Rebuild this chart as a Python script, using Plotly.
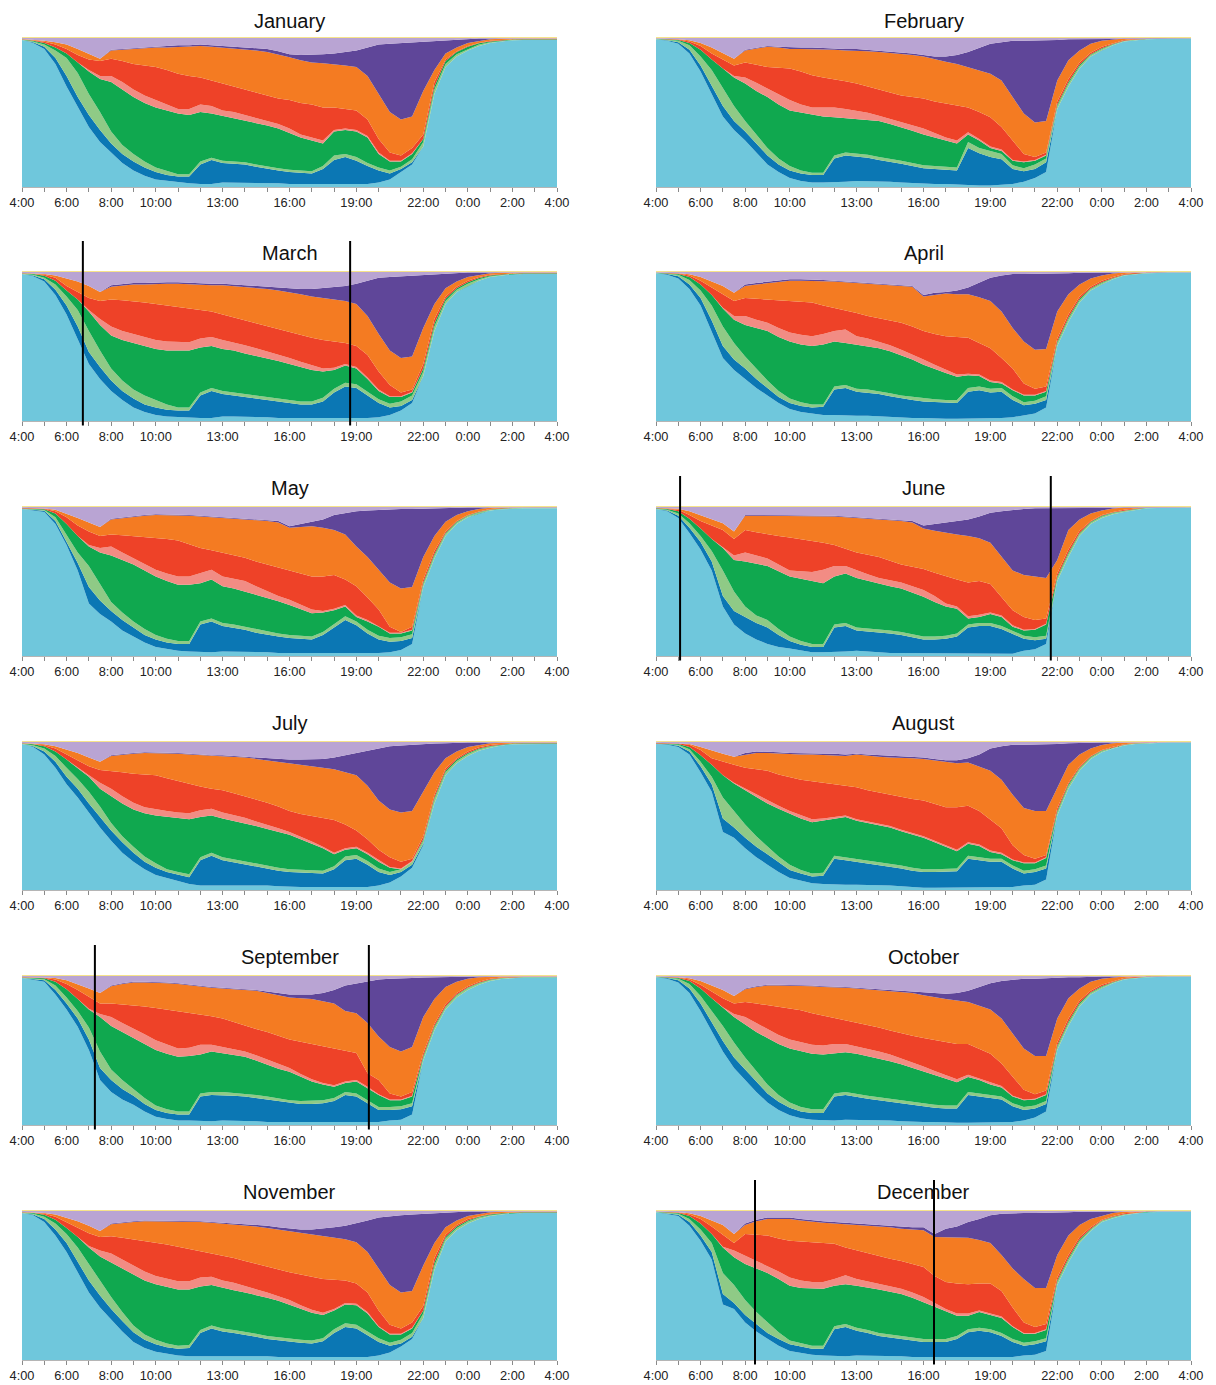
import plotly.graph_objects as go

# ---------------- data ----------------
# time grid (hours after midnight; 24-28 = 0:00-4:00 next day), 30-minute samples
TIME_H = [4.0, 4.5, 5.0, 5.5, 6.0, 6.5, 7.0, 7.5, 8.0, 8.5, 9.0, 9.5, 10.0, 10.5, 11.0, 11.5,
          12.0, 12.5, 13.0, 13.5, 14.0, 14.5, 15.0, 15.5, 16.0, 16.5, 17.0, 17.5, 18.0, 18.5,
          19.0, 19.5, 20.0, 20.5, 21.0, 21.5, 22.0, 22.5, 23.0, 23.5, 24.0, 24.5, 25.0, 25.5,
          26.0, 26.5, 27.0, 27.5, 28.0]

TICK_HOURS = [4, 5, 6, 7, 8, 9, 10, 11, 12, 13, 14, 15, 16, 17, 18, 19, 20, 21, 22, 23, 24, 25, 26, 27, 28]
TICK_LABELS = ["4:00", "", "6:00", "", "8:00", "", "10:00", "", "", "13:00", "", "", "16:00", "", "",
               "19:00", "", "", "22:00", "", "0:00", "", "2:00", "", "4:00"]

MONTH_NAMES = ["January", "February", "March", "April", "May", "June",
               "July", "August", "September", "October", "November", "December"]

# band names and colours, bottom to top
BAND_NAMES = ["cyan", "blue", "light green", "green", "pink", "red", "orange",
              "dark purple", "light purple", "yellow"]
BAND_COLORS = ["#6fc7dc", "#0b77b4", "#8fca86", "#10a84f", "#f28c84", "#ee4228",
               "#f47b22", "#5f4699", "#b9a4d3", "#f6e38a"]

# upper edge of each band, % of panel height
LIGHT_PURPLE_TOP = 99.3
YELLOW_TOP = 100.0

# sunrise / sunset marker lines (hours)
SUN_MONTHS = ["March", "June", "September", "December"]
SUN_RISE = [6.73, 5.08, 7.27, 8.44]
SUN_SET = [18.72, 21.71, 19.56, 16.47]

JAN_CYAN = [98, 96, 92, 82, 67, 53, 40, 30, 23, 16, 11, 7.5, 5, 4, 3, 2.5, 2, 2, 3, 3, 3, 3, 3, 2.5, 2, 2, 2, 2, 1.5, 1.5, 1.5, 2, 3, 5, 10, 15, 27, 62, 80, 87, 91, 94, 96, 97, 97.8, 98, 98, 98, 98]
JAN_BLUE = [98, 96.5, 93.5, 86, 74, 60, 48, 38, 29, 22, 17, 13, 10, 8, 7, 7, 15, 18, 16, 15.5, 15, 13.5, 12, 11, 10, 9.5, 9, 12, 18, 20, 17.5, 14, 11, 9, 12, 16.5, 27, 62, 80, 87, 91, 94, 96, 97, 97.8, 98, 98, 98, 98]
JAN_LGREEN = [98.2, 97, 95, 91, 86, 76, 62, 50, 37, 28, 22, 17, 13, 10.5, 8.5, 8.5, 17, 19.5, 17.5, 17, 16.5, 15, 13.5, 12.5, 11.5, 11, 10.5, 14, 21, 22, 20, 16, 13, 11, 13.5, 18.5, 30, 65, 82, 88.5, 92, 95, 96.5, 97.3, 98, 98.2, 98.2, 98.2, 98.2]
JAN_GREEN = [98.4, 97.5, 96, 93, 89, 83, 77, 72, 70, 65, 60, 56, 53, 51, 49, 48, 50, 49, 47.5, 46, 44, 42.5, 41, 39, 36, 33, 31, 29, 37, 38, 37, 33, 22, 17, 17, 22, 32, 67, 84, 90, 93.5, 95.8, 97, 97.8, 98.3, 98.5, 98.5, 98.5, 98.5]
JAN_PINK = [98.4, 97.5, 96, 93, 89, 83, 78, 74, 74, 70, 65, 61, 58, 55, 52, 52, 55, 54, 51, 50, 48, 46, 44, 42, 39, 35, 33, 31, 38, 39, 38, 34, 23, 17.5, 17.5, 22.5, 32, 67, 84, 90, 93.5, 95.8, 97, 97.8, 98.3, 98.5, 98.5, 98.5, 98.5]
JAN_RED = [98.5, 97.8, 96.8, 95, 92, 88, 85, 84, 85.5, 84, 82, 81, 80, 78, 75.5, 74, 73, 71, 69, 67, 65, 63, 61, 59, 58, 56, 55, 53, 53, 52, 51, 45, 32, 23, 21, 26, 35, 70, 85, 90.5, 94, 96, 97.5, 98, 98.4, 98.6, 98.6, 98.6, 98.6]
JAN_ORANGE = [98.6, 98.2, 97.5, 96.5, 95, 92, 89, 85.5, 91, 91.5, 92, 92.5, 93, 93, 93.5, 93.5, 94, 93.5, 93, 92.5, 92, 91, 90, 88.5, 86.5, 84.5, 83, 82.5, 82, 81, 80, 74, 62, 50, 45, 47, 64, 78, 89, 93, 96, 97.5, 98.5, 98.8, 99, 99, 99, 99, 99]
JAN_DPURPLE = [98.6, 98.2, 97.5, 96.5, 95, 92, 89, 85.5, 91.5, 92, 92.5, 93, 93.5, 94, 94.5, 94.5, 95, 94.5, 94, 93.5, 93, 92.5, 92, 90.5, 88.5, 88, 88, 88.5, 89, 90, 91, 93, 95, 95.5, 96, 96.5, 97, 97.5, 98, 98.5, 99, 99, 99, 99, 99, 99, 99, 99, 99]

FEB_CYAN = [98.5, 97.5, 95.5, 89, 77, 62, 47, 38, 31, 23, 15, 10, 6, 4, 3, 3, 3, 3.5, 4, 4, 4, 3.5, 3, 2.5, 2, 2, 2, 1.5, 1, 1, 1, 1.5, 2, 3.5, 6, 10, 52, 67, 79, 87, 91, 94.5, 97, 98, 98.5, 98.7, 98.7, 98.7, 98.7]
FEB_BLUE = [98.5, 97.8, 96.5, 91.5, 81, 68, 54, 44, 37, 29, 21, 15, 11, 9, 8, 8, 19, 21, 20.5, 19.5, 18, 17, 15.5, 14, 12.5, 12, 11.5, 11, 26, 22.5, 20, 18.5, 12, 10.5, 12, 16.5, 52, 67, 79, 87, 91, 94.5, 97, 98, 98.5, 98.7, 98.7, 98.7, 98.7]
FEB_LGREEN = [98.7, 98.2, 97.5, 94.5, 87, 78, 66, 54, 44, 35, 26, 19, 14, 11, 9.5, 9.5, 21, 23, 22.5, 21.5, 20, 19, 17.5, 16, 14.5, 14, 13.5, 13, 30, 26, 24, 22, 14.5, 12.5, 15, 19, 54, 69, 80.5, 88, 92, 95, 97.3, 98.2, 98.6, 98.8, 98.8, 98.8, 98.8]
FEB_GREEN = [98.8, 98.5, 98, 96, 91.5, 85, 79, 73, 69, 64, 60, 55, 51, 49.5, 48, 47, 46.5, 46, 45.5, 45, 44, 42, 40, 37.5, 35, 33, 31, 29, 35, 31, 26, 24, 17.5, 16.5, 17.5, 21, 55, 70, 81.5, 88.5, 92.5, 95.3, 97.5, 98.4, 98.8, 99, 99, 99, 99]
FEB_PINK = [98.8, 98.5, 98, 96, 91.5, 85, 79, 74, 73, 69.5, 65.5, 61.5, 58, 55, 53, 53, 53, 52, 51, 49.5, 47.5, 45.5, 43, 41, 39, 36, 33, 31, 36.5, 32, 27, 25, 18, 17, 18, 21.5, 55, 70, 81.5, 88.5, 92.5, 95.3, 97.5, 98.4, 98.8, 99, 99, 99, 99]
FEB_RED = [98.9, 98.7, 98.3, 97, 94, 89, 85, 81, 83, 81.5, 80, 79.5, 79, 77, 74.5, 73, 72, 70.5, 69, 67, 65.5, 63, 61, 60, 59, 57, 55.5, 54, 53, 50, 46.5, 40, 31, 22, 20, 23, 57, 72, 83, 89.5, 93.5, 96, 98, 98.6, 98.9, 99, 99, 99, 99]
FEB_ORANGE = [99, 98.8, 98.5, 97.8, 96, 93, 89, 85.5, 91, 92.5, 93.5, 93, 92, 92, 92, 91.5, 91.5, 91, 91, 90.5, 90, 89.5, 89, 88, 87, 85, 83.5, 82, 80, 77.5, 75.5, 71, 60, 49, 43, 44, 71, 84.5, 91, 95.5, 97.5, 98.5, 99, 99, 99, 99, 99, 99, 99]
FEB_DPURPLE = [99, 98.8, 98.5, 97.8, 96, 93, 89, 85.5, 91.5, 93, 94, 93.5, 93, 93, 93, 92.5, 92.5, 92, 92, 91.5, 91, 90.5, 90, 89, 88, 87, 87, 88, 90, 93, 95.5, 96.5, 97.5, 97.5, 97.5, 98, 98, 98.5, 98.5, 99, 99, 99, 99, 99, 99, 99, 99, 99, 99]

MAR_CYAN = [98, 96.5, 93, 84, 71, 55, 38, 28, 20, 14, 9, 6, 4, 3, 2.5, 2, 2, 2, 3, 3, 3, 3, 2.5, 2, 2, 2, 1.5, 1.5, 1.5, 1.5, 1.5, 2, 2.5, 4, 7, 12, 30, 60, 78, 86, 90, 93.5, 96, 97, 97.8, 98, 98, 98, 98]
MAR_BLUE = [98, 97, 94.5, 87.5, 77, 63, 46, 36, 27, 20, 15, 11, 9, 7.5, 7, 7, 17, 20, 18, 17, 16, 15, 14, 13, 12, 11, 11, 13, 19, 23, 22, 17, 12, 9, 10, 14, 30, 60, 78, 86, 90, 93.5, 96, 97, 97.8, 98, 98, 98, 98]
MAR_LGREEN = [98.2, 97.5, 95.5, 91, 83, 74, 60, 47, 35, 27, 21, 17, 14, 11, 9, 9, 19, 22, 20, 19, 18, 17, 16, 15, 14, 13, 13, 15.5, 21.5, 25.5, 24.5, 19.5, 14.5, 11.5, 13, 17, 33, 63, 80, 87.5, 91.5, 94.5, 96.5, 97.3, 98, 98.2, 98.2, 98.2, 98.2]
MAR_GREEN = [98.4, 98, 96.8, 93.5, 87, 81, 73, 64, 57, 54, 52, 50, 48, 47, 47, 47, 49, 50, 48, 47, 45, 43.5, 42, 40, 38, 36, 34, 33, 34, 37, 35, 28, 20, 16, 16, 19, 35, 65, 81.5, 88.5, 92.5, 95.3, 97, 97.8, 98.3, 98.5, 98.5, 98.5, 98.5]
MAR_PINK = [98.4, 98, 96.8, 93.5, 87, 81, 74, 68, 63, 60, 58, 56, 54, 53, 52.5, 52.5, 55, 56, 54, 52.5, 50.5, 48.5, 46.5, 44.5, 42, 39.5, 37, 35, 35.5, 38, 36, 29, 21, 16.5, 16.5, 19.5, 35, 65, 81.5, 88.5, 92.5, 95.3, 97, 97.8, 98.3, 98.5, 98.5, 98.5, 98.5]
MAR_RED = [98.5, 98.2, 97.5, 95.5, 90, 86, 82, 80, 81, 80.5, 80, 79, 78, 77, 76, 75, 74, 73, 71, 69, 67, 65, 63, 61, 59, 57, 55.5, 54, 53, 52, 50, 44, 33, 24, 19, 21, 38, 68, 83, 89.5, 93.5, 96, 97.5, 98, 98.4, 98.6, 98.6, 98.6, 98.6]
MAR_ORANGE = [98.6, 98.4, 98, 97, 95, 93, 90, 86, 89.5, 90.5, 91, 91, 91.5, 91.5, 91.5, 91, 91, 90.5, 90.5, 90, 89.5, 89, 88, 87, 86, 84.5, 83, 82, 81, 80, 78, 70, 58, 47, 42, 43, 62, 78, 88.5, 93, 96, 97.5, 98.5, 98.8, 99, 99, 99, 99, 99]
MAR_DPURPLE = [98.6, 98.4, 98, 97, 95, 93, 90, 86, 90.5, 91.5, 92, 92, 92.5, 92.5, 92.5, 92, 92, 91.5, 91.5, 91, 90.5, 90, 89.5, 89, 88.5, 88, 88, 88.5, 89, 90, 91.5, 93.5, 95.5, 96, 96.5, 97, 97.5, 98, 98.5, 99, 99, 99, 99, 99, 99, 99, 99, 99, 99]

APR_CYAN = [98.5, 97.5, 95, 88, 77, 60, 42, 34, 28, 22, 17, 12, 8, 6, 5, 4, 4, 3.5, 3.5, 3.5, 3, 3, 2.5, 2, 2, 1.5, 1.5, 1.5, 1.5, 1.5, 1.5, 2, 2.5, 3.5, 5, 9, 50, 66, 79, 87, 91, 94.5, 97, 98, 98.5, 98.7, 98.7, 98.7, 98.7]
APR_BLUE = [98.5, 98, 96.5, 91, 82, 67, 50, 41, 35, 28, 22, 16, 12, 10, 9, 9.5, 21, 22, 19.5, 19, 18, 16.5, 15, 14, 13, 12.5, 12, 12, 19.5, 20.5, 19, 19.5, 14, 10.5, 11.5, 14, 50, 66, 79, 87, 91, 94.5, 97, 98, 98.5, 98.7, 98.7, 98.7, 98.7]
APR_LGREEN = [98.7, 98.3, 97.5, 94, 87, 77, 63, 52, 43, 35, 27, 20, 15, 12.5, 11, 11, 23, 24, 21.5, 21, 20, 18.5, 17, 16, 15, 14.5, 14, 14, 22, 23, 21.5, 22, 16.5, 12.5, 13.5, 16.5, 52, 68, 80.5, 88, 92, 95, 97.3, 98.2, 98.6, 98.8, 98.8, 98.8, 98.8]
APR_GREEN = [98.8, 98.6, 98, 96, 91, 84, 75, 67.5, 64, 62, 60, 56, 53, 51, 50, 51, 53, 52, 51, 50, 48.5, 46.5, 44, 41, 37.5, 34.5, 32, 29.5, 30.5, 30, 26, 25, 20.5, 17, 17, 19.5, 53, 69, 81.5, 88.5, 92.5, 95.3, 97.5, 98.4, 98.8, 99, 99, 99, 99]
APR_PINK = [98.8, 98.6, 98, 96, 91, 84, 75.5, 70, 70, 67.5, 65.5, 62, 59, 57.5, 56.5, 58, 60, 61, 56.5, 55, 53, 50.5, 47.5, 44.5, 41, 37.5, 34, 31, 31.5, 31, 27, 26, 21, 17.5, 17.5, 20, 53, 69, 81.5, 88.5, 92.5, 95.3, 97.5, 98.4, 98.8, 99, 99, 99, 99]
APR_RED = [98.9, 98.7, 98.3, 97, 93.5, 89, 84.5, 80, 82, 81.5, 81, 80.5, 80, 79.5, 79, 77, 75.5, 74, 72, 70, 68.5, 67, 65.5, 63, 60, 58, 56.5, 56, 55.5, 52, 48.5, 42, 35, 25, 21.5, 23, 55, 71, 83, 89.5, 93.5, 96, 98, 98.6, 98.9, 99, 99, 99, 99]
APR_ORANGE = [99, 98.8, 98.5, 97.8, 96, 93, 90, 85.5, 90, 91, 92, 93, 93.5, 93.5, 93.5, 93, 93, 92.5, 92, 91.5, 91, 90.5, 90, 89.5, 83, 84, 85, 84.5, 84.5, 82.5, 80, 73, 62, 53, 47.5, 48, 73, 84.5, 91, 95, 97, 98.3, 99, 99, 99, 99, 99, 99, 99]
APR_DPURPLE = [99, 98.8, 98.5, 97.8, 96, 93, 90, 85.5, 91, 92, 93, 94, 94.5, 94.5, 94.5, 94, 93.5, 93, 92.5, 92, 91.5, 91, 90.5, 90, 84, 85.5, 86, 87, 89, 92, 95.5, 97, 98, 98, 98, 98, 98.5, 98.5, 98.8, 99, 99, 99, 99, 99, 99, 99, 99, 99, 99]

MAY_CYAN = [98, 97, 96, 88, 74, 57, 35, 28, 23, 17, 13, 9, 6, 4.5, 3.5, 3, 2.5, 2.5, 3, 3, 3, 3, 2.5, 2, 2, 2, 1.5, 1.5, 1.5, 1.5, 1.5, 1.5, 2, 2.5, 4, 8, 46, 65, 80, 88, 92.5, 95, 97, 97.8, 98.3, 98.5, 98.5, 98.5, 98.5]
MAY_BLUE = [98, 97.5, 96.8, 90, 76, 62, 46, 37, 30, 24, 19, 14, 11, 9, 8, 8, 21, 23, 20, 19, 17.5, 15.5, 14, 13, 12, 11.5, 11, 14, 19, 24, 20.5, 15, 11, 9.5, 10, 12, 46, 65, 80, 88, 92.5, 95, 97, 97.8, 98.3, 98.5, 98.5, 98.5, 98.5]
MAY_LGREEN = [98.2, 97.8, 97.3, 92.5, 81, 69, 60, 48, 36, 29, 23, 18, 14, 11.5, 10, 10, 23, 25, 22, 21, 19.5, 17.5, 16, 15, 14, 13.5, 13, 16, 21, 26.5, 23, 17.5, 13.5, 12, 12.5, 14.5, 48, 67, 81.5, 89, 93.3, 95.7, 97.5, 98.1, 98.5, 98.7, 98.7, 98.7, 98.7]
MAY_GREEN = [98.4, 98.2, 97.8, 95, 88, 80, 73, 69, 67, 64, 61, 57, 53, 50, 47.5, 47.5, 48.5, 51, 46.5, 45, 43, 40.5, 38.5, 36.5, 34, 31, 28.5, 29, 30.5, 33, 26, 23, 19.5, 15, 15, 17, 49, 68, 82, 89.5, 93.6, 96, 97.7, 98.3, 98.7, 98.9, 98.9, 98.9, 98.9]
MAY_PINK = [98.4, 98.2, 97.8, 95, 88, 80, 74, 72, 73, 69, 65, 61, 57.5, 55, 53, 53, 55.5, 57.5, 53, 51.5, 50, 46.5, 43, 40, 37.5, 34, 31, 30, 31.5, 34, 27, 24, 20, 15.5, 15.5, 17.5, 49, 68, 82, 89.5, 93.6, 96, 97.7, 98.3, 98.7, 98.9, 98.9, 98.9, 98.9]
MAY_RED = [98.6, 98.4, 98.2, 96.5, 92.5, 87, 83, 80, 81, 80.5, 80, 79.5, 79, 78, 77, 74.5, 72, 70.5, 69, 67, 65.5, 63, 61, 59, 57.5, 55, 53, 53, 54, 51, 46.5, 39, 31, 19.5, 16, 19.5, 51, 70, 83, 90, 94, 96.3, 98, 98.5, 98.8, 99, 99, 99, 99]
MAY_ORANGE = [98.8, 98.6, 98.4, 97.5, 95, 92, 89, 86, 91, 92, 93, 93.5, 94, 94, 93.5, 93.5, 93, 92.5, 92, 91.5, 91, 90.5, 90, 89, 85.5, 86, 86.5, 85.5, 84, 81, 73, 66, 57.5, 49, 45, 46, 66, 80, 89.5, 94, 96.5, 98, 98.8, 99, 99, 99, 99, 99, 99]
MAY_DPURPLE = [98.8, 98.6, 98.4, 97.5, 95, 92, 89, 86, 91.5, 92.5, 93.5, 94, 94.5, 94.5, 94, 94, 93.5, 93, 92.5, 92, 91.5, 91, 90.5, 90, 86.5, 88, 89, 91, 94, 95.5, 96.5, 97, 97.5, 97.5, 98, 98, 98.3, 98.5, 98.8, 99, 99, 99, 99, 99, 99, 99, 99, 99, 99]

JUN_CYAN = [98, 96.5, 92, 82, 71, 57, 33, 21, 15, 11, 8, 6, 5, 3.5, 2.5, 2.5, 2.5, 3, 3.5, 3, 2, 2, 2, 2, 1.5, 1.5, 1.5, 1.5, 1.5, 1.5, 1.5, 1.5, 1.5, 3.5, 4.5, 8, 50, 66, 80, 88, 92, 94.5, 96, 97.3, 98.5, 98.7, 98.7, 98.7, 98.7]
JUN_BLUE = [98, 97, 93.5, 85.5, 76, 63, 40, 30, 26, 22, 19, 14, 10, 7.5, 6, 6, 19, 20, 17, 16.5, 16, 15, 14, 12.5, 11, 11, 11.5, 13, 19, 20, 20, 18, 15, 11.5, 10.5, 11.5, 50, 66, 80, 88, 92, 94.5, 96, 97.3, 98.5, 98.7, 98.7, 98.7, 98.7]
JUN_LGREEN = [98.2, 97.5, 95, 88.5, 80, 70, 57, 43, 33, 27, 24, 18, 13, 10, 8, 8, 21, 22, 19, 18.5, 18, 17, 16, 14.5, 13, 13, 13.5, 15, 21, 22, 22, 20, 17, 13.5, 12.5, 13.5, 52, 68, 81.5, 89, 93, 95.3, 96.7, 97.8, 98.7, 98.9, 98.9, 98.9, 98.9]
JUN_GREEN = [98.5, 98, 96.5, 91.5, 85, 78, 72, 64, 63, 61.5, 60, 56.5, 53, 51.5, 50, 48.5, 53, 55, 52, 50, 48.5, 46.5, 45, 42.5, 39.5, 36, 33, 31.5, 25, 26, 28, 26, 19.5, 17, 17.5, 21, 53, 69, 82, 89.5, 93.5, 95.7, 97, 98, 98.9, 99, 99, 99, 99]
JUN_PINK = [98.5, 98, 96.5, 91.5, 85, 78, 72.5, 67, 69, 67, 65, 61, 57, 56.5, 56, 57.5, 60, 60, 57, 54.5, 52, 50.5, 49, 46.5, 44, 40, 35, 33, 26.5, 27.5, 29, 27, 20.5, 17.5, 18, 21.5, 53, 69, 82, 89.5, 93.5, 95.7, 97, 98, 98.9, 99, 99, 99, 99]
JUN_RED = [98.6, 98.3, 97.5, 94, 90, 87, 84, 78, 84, 82.5, 81, 80, 79, 78, 77, 75.5, 74, 71.5, 69, 67.5, 66, 63.5, 61, 59.5, 58, 55.5, 53, 51, 49, 50, 48, 39, 30.5, 26, 24, 25, 55, 71, 83.5, 90, 94, 96, 97.5, 98.3, 99, 99, 99, 99, 99]
JUN_ORANGE = [98.8, 98.6, 98.2, 96.5, 94, 91, 88.5, 83, 93.5, 93.5, 93.5, 93.5, 93.5, 93.5, 93, 93, 93, 92.5, 92, 91.5, 91, 90.5, 90, 89, 85, 83.5, 82, 81, 80, 78.5, 75.5, 66, 57, 54, 53, 52, 64, 84, 91, 95, 97, 98.3, 99, 99, 99, 99, 99, 99, 99]
JUN_DPURPLE = [98.8, 98.6, 98.2, 96.5, 94, 91, 88.5, 83, 94, 94, 94, 94, 94, 94, 93.5, 93.5, 93.5, 93, 92.5, 92, 91.5, 91, 90.5, 90, 87, 88, 88.5, 89.5, 91, 93, 95.5, 96.5, 97.5, 98, 98.5, 98.5, 98.5, 98.7, 98.8, 99, 99, 99, 99, 99, 99, 99, 99, 99, 99]

JUL_CYAN = [98, 96, 91, 82, 71, 62, 52, 42, 33, 25, 19, 14, 10, 8, 6, 4, 3, 3, 3.5, 3.5, 3, 3, 3, 2.5, 2, 2, 2, 2, 1.5, 1.5, 1.5, 2, 3, 5, 9, 15, 30, 58, 77, 85, 90, 93.5, 95.5, 97, 97.8, 98, 98, 98, 98]
JUL_BLUE = [98, 96.5, 93, 86, 76, 68, 58, 49, 40, 32, 25, 19, 15, 12, 10, 8.5, 20, 23, 20, 18.5, 17, 15.5, 14, 13, 12, 11.5, 11, 11, 14, 20, 21, 17, 12, 10, 12, 17, 31, 58, 77, 85, 90, 93.5, 95.5, 97, 97.8, 98, 98, 98, 98]
JUL_LGREEN = [98.2, 97.2, 95, 90, 82, 74.5, 66, 56, 45, 36, 29, 22.5, 18, 14, 12, 10.5, 22, 25, 22, 20.5, 19, 17.5, 16, 15, 14, 13.5, 13, 13, 16, 22.5, 23.5, 19.5, 14.5, 12, 14, 19, 33, 61, 79, 86.5, 91.3, 94.5, 96.3, 97.4, 98, 98.2, 98.2, 98.2, 98.2]
JUL_GREEN = [98.4, 97.8, 96.5, 93, 87.5, 82, 76, 68, 63, 58, 54, 51.5, 50, 49, 48, 47.5, 49, 50, 48, 46.5, 45, 43, 41, 39, 37, 34, 31, 28, 24, 27, 28, 24, 19, 15, 14, 19, 34, 62, 80, 87.5, 92, 95, 96.7, 97.7, 98.3, 98.5, 98.5, 98.5, 98.5]
JUL_PINK = [98.4, 97.8, 96.5, 93, 87.5, 82, 77, 72, 68, 63, 58.5, 55.5, 54, 53, 52, 51.5, 53.5, 54.5, 52, 50.5, 48.5, 46, 44, 41.5, 39, 36, 32.5, 29, 25, 28, 29, 25, 20, 15.5, 14.5, 19.5, 34, 62, 80, 87.5, 92, 95, 96.7, 97.7, 98.3, 98.5, 98.5, 98.5, 98.5]
JUL_RED = [98.5, 98, 97.2, 95, 91, 86.5, 83, 80.5, 80, 79, 78, 77.5, 77, 75, 73, 71, 69.5, 68, 67, 65, 63, 61, 58.5, 56, 53, 51, 49.5, 48, 47, 44, 40, 34, 27, 22, 19, 21, 36, 64, 81.5, 88.5, 93, 95.8, 97.3, 98, 98.5, 98.6, 98.6, 98.6, 98.6]
JUL_ORANGE = [98.6, 98.3, 97.8, 96.5, 94.5, 92, 89, 86, 90, 91, 91.5, 92, 92, 92, 91.5, 91, 90.5, 90, 90, 89.5, 89, 88, 87, 86, 85, 84, 83, 82, 81, 79, 77, 70, 60, 54, 52, 53, 66, 79, 88.5, 93, 96, 97.5, 98.5, 98.8, 99, 99, 99, 99, 99]
JUL_DPURPLE = [98.6, 98.3, 97.8, 96.5, 94.5, 92, 89, 86, 90.5, 91.5, 92, 92.5, 92.5, 92.5, 92, 91.5, 91, 90.5, 90.5, 90, 89.5, 89, 88.5, 88, 87.5, 87.5, 87.5, 88, 89, 90.5, 92, 94, 95.5, 96.5, 97, 97.5, 98, 98.3, 98.5, 99, 99, 99, 99, 99, 99, 99, 99, 99, 99]

AUG_CYAN = [98, 97.5, 96, 91, 79, 66, 39, 35, 28, 22, 17, 12, 8, 6, 4.5, 4, 3.5, 3.5, 3.5, 3.5, 3.5, 3, 2.5, 2, 1.5, 1.5, 1.5, 1.5, 1.5, 1.5, 1.5, 1.5, 2, 3, 3.5, 7, 50, 68, 80, 88, 92.5, 95, 97, 98, 98.5, 98.7, 98.7, 98.7, 98.7]
AUG_BLUE = [98, 97.8, 96.8, 93, 83, 71, 48, 42, 35, 29, 24, 18.5, 13.5, 11, 9, 9.5, 21, 20, 19, 18, 17, 15.5, 14.5, 13, 12, 12, 12, 12.5, 21, 20, 19, 19, 14.5, 11, 12, 14.5, 50, 68, 80, 88, 92.5, 95, 97, 98, 98.5, 98.7, 98.7, 98.7, 98.7]
AUG_LGREEN = [98.2, 98, 97.5, 94.5, 86, 76, 62, 53, 44, 36, 29, 22.5, 17, 13.5, 11, 11.5, 23, 22, 21, 20, 19, 17.5, 16.5, 15, 14, 14, 14, 14.5, 23, 22, 21, 21, 16.5, 13, 14, 16.5, 52, 70, 81.5, 89, 93.3, 95.6, 97.3, 98.3, 98.7, 98.9, 98.9, 98.9, 98.9]
AUG_GREEN = [98.4, 98.3, 98, 96, 90.5, 84, 77, 71.5, 67, 62.5, 58, 54.5, 51, 48, 45.5, 46.5, 47.5, 49, 46.5, 45, 44, 42, 39.5, 37.5, 35, 32, 29, 26, 31, 29.5, 25.5, 24, 20, 18, 18, 21.5, 53, 71, 82, 89.5, 93.6, 95.8, 97.5, 98.5, 98.8, 99, 99, 99, 99]
AUG_PINK = [98.4, 98.3, 98, 96, 90.5, 84, 77, 72, 68, 64, 60, 56.5, 53, 50, 47.5, 48, 49, 50, 47.5, 46, 45, 43, 40.5, 38.5, 36, 33, 30, 27, 32, 30.5, 26.5, 25, 20.5, 18.5, 18.5, 22, 53, 71, 82, 89.5, 93.6, 95.8, 97.5, 98.5, 98.8, 99, 99, 99, 99]
AUG_RED = [98.6, 98.5, 98.3, 97.5, 94, 88.5, 86, 84, 82, 81, 80, 77.5, 75.5, 74, 73, 72, 71, 70, 69, 67, 65.5, 63.5, 62, 61, 60, 58, 55.5, 55.5, 56.5, 53, 47, 41.5, 30, 23.5, 21, 23.5, 55, 72, 83, 90, 94, 96.2, 97.8, 98.7, 99, 99, 99, 99, 99]
AUG_ORANGE = [98.8, 98.7, 98.6, 98, 96, 93.5, 91.5, 89.5, 91, 92, 92, 91.5, 91, 91, 91, 90.5, 90.5, 90, 91, 90, 89.5, 89, 89, 88.5, 88, 87, 85.5, 85, 85.5, 83, 80, 74, 64, 55, 53, 53, 68, 84, 91, 95, 97.3, 98.5, 99, 99, 99, 99, 99, 99, 99]
AUG_DPURPLE = [98.8, 98.7, 98.6, 98, 96, 93.5, 91.5, 89.5, 92, 93, 93, 92.5, 92, 92, 92, 91.5, 91.5, 91, 91.5, 91, 90.5, 90, 90, 89.5, 89, 88, 87, 87, 88.5, 91, 95, 96.5, 97.5, 97.5, 97.5, 97.5, 98, 98.5, 98.8, 99, 99, 99, 99, 99, 99, 99, 99, 99, 99]

SEP_CYAN = [98, 97, 95.5, 87, 77, 65.5, 50, 30, 22, 17, 13.5, 9, 5.5, 4, 3, 3, 2.5, 2.5, 3, 3, 3, 2.5, 2, 2, 2, 2, 1.5, 1.5, 1.5, 1.5, 1.5, 1.5, 2, 3, 3.5, 7, 43, 63, 77, 85, 90, 93.5, 96, 97.3, 98, 98.3, 98.3, 98.3, 98.3]
SEP_BLUE = [98, 97.5, 96.5, 90, 81, 71, 57, 38, 30, 24, 19.5, 14, 10, 8, 7, 7, 19, 20, 20, 19.5, 19, 18, 17, 15.5, 14.5, 14, 14, 14.5, 16, 20, 19, 14.5, 10, 10, 10.5, 12.5, 43, 63, 77, 85, 90, 93.5, 96, 97.3, 98, 98.3, 98.3, 98.3, 98.3]
SEP_LGREEN = [98.2, 97.8, 97.2, 93, 85, 76, 65, 49, 37, 30, 24, 18, 13, 10.5, 9, 9, 21, 22, 22, 21.5, 21, 20, 19, 17.5, 16.5, 16, 16, 16.5, 18, 22, 21, 16.5, 12, 12, 12.5, 14.5, 45, 65, 78.5, 86.5, 91.3, 94.5, 96.7, 97.8, 98.3, 98.5, 98.5, 98.5, 98.5]
SEP_GREEN = [98.4, 98.2, 97.8, 95.5, 90.5, 84, 77, 72, 66, 62, 58, 54, 50, 47.5, 45.5, 46, 47, 49, 48, 47, 45.5, 43, 40, 37.5, 35.5, 32, 29, 27, 25.5, 28, 29, 24.5, 20, 16.5, 16.5, 19, 46, 66, 79, 87, 91.7, 94.8, 97, 98, 98.5, 98.7, 98.7, 98.7, 98.7]
SEP_PINK = [98.4, 98.2, 97.8, 95.5, 90.5, 84, 77.5, 74, 72, 68, 64.5, 60.5, 56.5, 53.5, 51, 51.5, 53.5, 53.5, 52, 51, 49, 46.5, 43.5, 41, 38, 34, 30.5, 28, 26.5, 29, 30, 25.5, 20.5, 17, 17, 19.5, 46, 66, 79, 87, 91.7, 94.8, 97, 98, 98.5, 98.7, 98.7, 98.7, 98.7]
SEP_RED = [98.5, 98.4, 98.2, 97, 94, 90, 85.5, 81, 81, 80.5, 80, 79, 78, 77, 76, 75, 74, 72.5, 71, 68.5, 66, 64, 62, 59.5, 57, 55.5, 54, 52.5, 51, 49.5, 48, 34.5, 30, 21, 19, 22, 48, 67.5, 80.5, 88, 92.5, 95.5, 97.5, 98.3, 98.7, 98.8, 98.8, 98.8, 98.8]
SEP_ORANGE = [98.6, 98.5, 98.4, 98, 96.5, 94, 91, 88, 92.5, 94, 95, 95, 95, 94.5, 94, 93, 92, 91.5, 91, 90.5, 90.5, 89.5, 88, 86.5, 85, 84.5, 84, 82.5, 81, 76, 74.5, 68, 59, 52, 49, 52, 72, 84, 92, 95.5, 97.5, 98.5, 99, 99, 99, 99, 99, 99, 99]
SEP_DPURPLE = [98.6, 98.5, 98.4, 98, 96.5, 94, 91, 88, 93, 94.5, 95.5, 95.5, 95.5, 95, 94.5, 93.5, 92.5, 92, 91.5, 91, 91, 90, 89, 88, 87, 87, 87, 88, 90, 93, 94.5, 95.5, 97, 97.5, 98, 98, 98.3, 98.5, 98.8, 99, 99, 99, 99, 99, 99, 99, 99, 99, 99]

OCT_CYAN = [98.5, 97.5, 95, 88, 76, 62, 49, 38, 30, 22, 15, 10, 6.5, 4.5, 3.5, 3, 3, 3.5, 3.5, 3.5, 3, 3, 2.5, 2, 2, 2, 1.5, 1.5, 1.5, 1.5, 1.5, 1.5, 2, 3, 5, 9, 50, 66, 79, 87, 91, 94.5, 97, 98, 98.5, 98.7, 98.7, 98.7, 98.7]
OCT_BLUE = [98.5, 98, 96.5, 91, 81, 68, 56, 45, 37, 29, 21, 15.5, 11.5, 9, 8, 8, 19, 20, 18.5, 17.5, 16.5, 15.5, 14, 13, 12, 11.5, 11, 11, 20, 19, 18, 17, 12.5, 10, 11, 14, 50, 66, 79, 87, 91, 94.5, 97, 98, 98.5, 98.7, 98.7, 98.7, 98.7]
OCT_LGREEN = [98.7, 98.3, 97.5, 94, 86, 76, 66, 55, 45, 36, 27, 20, 15, 12, 10.5, 10.5, 21, 22, 20.5, 19.5, 18.5, 17.5, 16, 15, 14, 13.5, 13, 13, 22, 21, 20, 19, 14.5, 12, 13, 16, 52, 68, 80.5, 88, 92, 95, 97.3, 98.2, 98.6, 98.8, 98.8, 98.8, 98.8]
OCT_GREEN = [98.8, 98.6, 98, 96, 91, 84.5, 78, 72, 67, 62, 58, 54, 51, 49, 47.5, 47, 48, 48.5, 47.5, 46, 44.5, 42.5, 40.5, 38, 35.5, 33, 30.5, 28.5, 32, 30, 27, 25, 19, 16.5, 17, 20, 53, 69, 81.5, 88.5, 92.5, 95.3, 97.5, 98.4, 98.8, 99, 99, 99, 99]
OCT_PINK = [98.8, 98.6, 98, 96, 91, 84.5, 78.5, 74, 72, 68, 64, 60, 57, 55, 53.5, 53, 54, 54, 52.5, 51, 49, 47, 44.5, 42, 39, 36, 33, 30.5, 33.5, 31, 28, 26, 19.5, 17, 17.5, 20.5, 53, 69, 81.5, 88.5, 92.5, 95.3, 97.5, 98.4, 98.8, 99, 99, 99, 99]
OCT_RED = [98.9, 98.7, 98.3, 97, 93.5, 89, 84.5, 81, 82, 81, 80, 79, 78, 76.5, 74.5, 73, 71.5, 70, 68.5, 67, 65, 63, 61, 59.5, 58, 56.5, 55, 54, 54, 51, 47.5, 41, 32, 23.5, 20.5, 23, 55, 71, 83, 89.5, 93.5, 96, 98, 98.6, 98.9, 99, 99, 99, 99]
OCT_ORANGE = [99, 98.8, 98.5, 97.8, 96, 93, 90, 86, 90.5, 92, 93, 93, 93, 92.5, 92.5, 92, 92, 91.5, 91, 90.5, 90, 89.5, 89, 88, 86.5, 85, 84, 83, 82, 79.5, 77, 71, 61, 51, 46, 46, 71, 84.5, 91, 95.5, 97.5, 98.5, 99, 99, 99, 99, 99, 99, 99]
OCT_DPURPLE = [99, 98.8, 98.5, 97.8, 96, 93, 90, 86, 91, 92.5, 93.5, 93.5, 93.5, 93, 93, 92.5, 92.5, 92, 91.5, 91, 90.5, 90, 89.5, 89, 88, 87.5, 87.5, 88, 89.5, 92, 94.5, 96, 97, 97.5, 97.5, 98, 98, 98.5, 98.5, 99, 99, 99, 99, 99, 99, 99, 99, 99, 99]

NOV_CYAN = [98, 96.5, 92, 83, 72, 58, 45, 35, 27, 19, 12, 8, 5.5, 4, 3, 2.5, 2.5, 2.5, 3, 3, 3, 3, 2.5, 2, 2, 2, 1.5, 1.5, 1.5, 1.5, 1.5, 2, 3, 5, 9, 14, 28, 60, 79, 86.5, 91, 94, 96, 97, 97.8, 98, 98, 98, 98]
NOV_BLUE = [98, 97, 94, 87, 78, 65, 53, 43, 34, 26, 18.5, 13.5, 10.5, 8.5, 7.5, 8, 18, 21, 19, 18, 17, 15.5, 14, 13, 12, 11.5, 11, 12.5, 18, 22, 21, 16.5, 12, 9.5, 11, 15.5, 28, 60, 79, 86.5, 91, 94, 96, 97, 97.8, 98, 98, 98, 98]
NOV_LGREEN = [98.2, 97.5, 95.5, 91, 84, 75, 64, 53, 42, 32, 23, 17, 13.5, 11, 9.5, 10, 20, 23, 21, 20, 19, 17.5, 16, 15, 14, 13.5, 13, 14.5, 20.5, 24.5, 23.5, 19, 14.5, 11.5, 13.5, 18, 31, 63, 81, 88, 92.3, 95, 96.5, 97.3, 98, 98.2, 98.2, 98.2, 98.2]
NOV_GREEN = [98.4, 98, 96.8, 93.5, 88, 82, 75, 69, 65, 61, 57, 53, 50.5, 48.5, 47, 47, 49, 50, 48, 46.5, 45, 43.5, 41.5, 39.5, 37, 34, 31.5, 30, 33, 37, 36.5, 31, 22, 17, 17, 21, 33, 65, 82, 89, 93, 95.5, 97, 97.8, 98.3, 98.5, 98.5, 98.5, 98.5]
NOV_PINK = [98.4, 98, 96.8, 93.5, 88, 82, 76, 73, 71, 67, 63, 59, 56, 54, 52.5, 52.5, 55, 55.5, 53, 51.5, 49.5, 47.5, 45, 42.5, 40, 36.5, 33.5, 31.5, 34, 38, 37.5, 32, 22.5, 17.5, 17.5, 21.5, 33, 65, 82, 89, 93, 95.5, 97, 97.8, 98.3, 98.5, 98.5, 98.5, 98.5]
NOV_RED = [98.5, 98.2, 97.5, 95.5, 92, 88, 84.5, 82, 82.5, 81.5, 80.5, 79.5, 78.5, 77, 75.5, 74, 73, 71.5, 70, 68, 66, 64, 62, 60, 58.5, 57, 55.5, 54, 53.5, 53, 51, 45, 33, 23.5, 21, 25, 36, 68, 83.5, 90, 94, 96, 97.5, 98, 98.4, 98.6, 98.6, 98.6, 98.6]
NOV_ORANGE = [98.6, 98.4, 98, 97, 95, 92.5, 89.5, 86, 90.5, 91.5, 92, 92.5, 92.5, 92.5, 92.5, 92, 92, 91.5, 91, 90.5, 90, 89, 88, 87, 86, 85, 84, 83, 82, 80.5, 78.5, 72, 61, 50, 45, 46, 63, 78, 88.5, 93, 96, 97.5, 98.5, 98.8, 99, 99, 99, 99, 99]
NOV_DPURPLE = [98.6, 98.4, 98, 97, 95, 92.5, 89.5, 86, 91, 92, 92.5, 93, 93, 93, 93, 92.5, 92.5, 92, 91.5, 91, 90.5, 90, 89.5, 88.5, 87.5, 87, 87, 87.5, 88.5, 89.5, 91, 93, 95, 96, 96.5, 97, 97.5, 98, 98.5, 99, 99, 99, 99, 99, 99, 99, 99, 99, 99]

DEC_CYAN = [98.5, 97.5, 96, 89.5, 79.5, 67, 37, 34, 25, 19, 14, 9.5, 6, 4.5, 3.5, 3, 2.5, 2.5, 3, 3, 3, 2.5, 2.5, 2, 2, 2, 1.5, 1.5, 1.5, 1.5, 1.5, 1.5, 2, 3, 3.5, 6, 50, 65, 78, 86, 92, 94.5, 96.5, 97.7, 98.5, 98.7, 98.7, 98.7, 98.7]
DEC_BLUE = [98.5, 97.8, 96.8, 92, 83, 72, 44, 38, 30, 24, 18, 14, 10.5, 9, 7.5, 7.5, 20.5, 22, 19.5, 18, 16, 15, 14, 13, 12, 12, 12, 14, 18.5, 19.5, 18.5, 16, 12, 9.5, 10.5, 12.5, 50, 65, 78, 86, 92, 94.5, 96.5, 97.7, 98.5, 98.7, 98.7, 98.7, 98.7]
DEC_LGREEN = [98.7, 98.2, 97.5, 94, 87, 78, 58, 50, 40, 32, 25, 18.5, 13, 11, 9.5, 9.5, 22.5, 24, 21.5, 20, 18, 17, 16, 15, 14, 14, 14, 16, 20.5, 21.5, 20.5, 18, 14, 11.5, 12.5, 14.5, 52, 67, 79.5, 87, 92.8, 95.2, 97, 98, 98.7, 98.9, 98.9, 98.9, 98.9]
DEC_GREEN = [98.8, 98.5, 98, 96, 91, 84, 75, 68.5, 64, 61, 58, 54, 49.5, 48, 47.5, 47.5, 49.5, 50.5, 49.5, 48.5, 47, 45.5, 44, 41.5, 38.5, 35, 32, 29.5, 29.5, 32, 30, 28, 22, 17.5, 17.5, 20, 53, 68, 80.5, 87.5, 93, 95.5, 97.2, 98.2, 98.8, 99, 99, 99, 99]
DEC_PINK = [98.8, 98.5, 98, 96, 91, 84, 75.5, 73, 69.5, 66, 63, 59, 55, 53, 52, 52, 54, 56.5, 54, 52.5, 51, 49, 47.5, 45, 42, 38, 34, 31, 31, 33, 31, 29, 22.5, 18, 18, 20.5, 53, 68, 80.5, 87.5, 93, 95.5, 97.2, 98.2, 98.8, 99, 99, 99, 99]
DEC_RED = [98.9, 98.7, 98.3, 97, 94, 89, 83.5, 78, 84, 83.5, 83, 81, 79.5, 79, 78.5, 78, 77.5, 75, 73, 71, 69.5, 67.5, 66, 64, 62, 56, 52, 51, 50.5, 51, 51, 46, 35, 25, 22, 24, 55, 70, 82, 88.5, 93.5, 96, 97.8, 98.5, 98.9, 99, 99, 99, 99]
DEC_ORANGE = [99, 98.8, 98.5, 97.8, 96, 93, 90, 84, 90, 92.5, 94, 94, 94, 93, 92, 91.5, 91, 90.5, 90.5, 89.5, 89, 88.5, 87.5, 87, 86.5, 82, 82, 81.5, 81.5, 80, 78, 70, 61, 54, 48, 48, 70, 83, 90, 94, 96, 98, 99, 99, 99, 99, 99, 99, 99]
DEC_DPURPLE = [99, 98.8, 98.5, 97.8, 96, 93, 90, 84, 91, 93.5, 95, 95, 95, 94, 93, 92.5, 92, 91.5, 91.5, 90.5, 90, 89.5, 89, 88.5, 88.5, 84, 87.5, 89, 92, 94, 96.5, 97.5, 98, 98, 98, 98, 98.3, 98.5, 98.8, 99, 99, 99, 99, 99, 99, 99, 99, 99, 99]

# ---------------- assembly ----------------
MONTH_EDGES = [
    (JAN_CYAN, JAN_BLUE, JAN_LGREEN, JAN_GREEN, JAN_PINK, JAN_RED, JAN_ORANGE, JAN_DPURPLE),
    (FEB_CYAN, FEB_BLUE, FEB_LGREEN, FEB_GREEN, FEB_PINK, FEB_RED, FEB_ORANGE, FEB_DPURPLE),
    (MAR_CYAN, MAR_BLUE, MAR_LGREEN, MAR_GREEN, MAR_PINK, MAR_RED, MAR_ORANGE, MAR_DPURPLE),
    (APR_CYAN, APR_BLUE, APR_LGREEN, APR_GREEN, APR_PINK, APR_RED, APR_ORANGE, APR_DPURPLE),
    (MAY_CYAN, MAY_BLUE, MAY_LGREEN, MAY_GREEN, MAY_PINK, MAY_RED, MAY_ORANGE, MAY_DPURPLE),
    (JUN_CYAN, JUN_BLUE, JUN_LGREEN, JUN_GREEN, JUN_PINK, JUN_RED, JUN_ORANGE, JUN_DPURPLE),
    (JUL_CYAN, JUL_BLUE, JUL_LGREEN, JUL_GREEN, JUL_PINK, JUL_RED, JUL_ORANGE, JUL_DPURPLE),
    (AUG_CYAN, AUG_BLUE, AUG_LGREEN, AUG_GREEN, AUG_PINK, AUG_RED, AUG_ORANGE, AUG_DPURPLE),
    (SEP_CYAN, SEP_BLUE, SEP_LGREEN, SEP_GREEN, SEP_PINK, SEP_RED, SEP_ORANGE, SEP_DPURPLE),
    (OCT_CYAN, OCT_BLUE, OCT_LGREEN, OCT_GREEN, OCT_PINK, OCT_RED, OCT_ORANGE, OCT_DPURPLE),
    (NOV_CYAN, NOV_BLUE, NOV_LGREEN, NOV_GREEN, NOV_PINK, NOV_RED, NOV_ORANGE, NOV_DPURPLE),
    (DEC_CYAN, DEC_BLUE, DEC_LGREEN, DEC_GREEN, DEC_PINK, DEC_RED, DEC_ORANGE, DEC_DPURPLE),
]

N = len(TIME_H)
for mi, edges in enumerate(MONTH_EDGES):
    for bi, e in enumerate(edges):
        if len(e) != N:
            raise ValueError(f"{MONTH_NAMES[mi]} band {BAND_NAMES[bi]} has {len(e)} values")

# the page is offset by the default 8px body margin; the figure fills the rest of the window
OFF = 8
W, H = 1216 - OFF, 1385 - OFF
FONT = "Liberation Sans, Arial, Helvetica, sans-serif"
TITLE_SIZE = 20
COL_X = [(22, 557), (656, 1191)]           # target window pixels
ROW_Y = [(37, 187), (271, 421), (506, 656), (741, 890), (975, 1125), (1210, 1360)]
TITLE_Y = [21, 253, 488, 723, 957, 1192]


def px_x(X):
    return (X - OFF) / W


def px_y(Y):
    return 1 - (Y - OFF) / H


fig = go.Figure()
layout = dict(width=W, height=H, margin=dict(l=0, r=0, t=0, b=0, autoexpand=False),
              paper_bgcolor="white", plot_bgcolor="white", showlegend=False)
annotations = []
shapes = []

for mi, edges in enumerate(MONTH_EDGES):
    r, c = divmod(mi, 2)
    n = mi + 1
    xa = "x" if n == 1 else f"x{n}"
    ya = "y" if n == 1 else f"y{n}"
    tops = list(edges) + [[LIGHT_PURPLE_TOP] * N, [YELLOW_TOP] * N]
    prev = [0.0] * N
    for bi, top in enumerate(tops):
        cum = [max(p, t) for p, t in zip(prev, top)]
        thick = [cv - p for cv, p in zip(cum, prev)]
        fig.add_trace(go.Scatter(
            x=TIME_H, y=thick, stackgroup=f"m{n}", mode="lines",
            line=dict(width=0, color=BAND_COLORS[bi]), fillcolor=BAND_COLORS[bi],
            name=BAND_NAMES[bi], xaxis=xa, yaxis=ya, hoverinfo="skip"))
        prev = cum

    x0, x1 = COL_X[c]
    yt, yb = ROW_Y[r]
    xkey = "xaxis" if n == 1 else f"xaxis{n}"
    ykey = "yaxis" if n == 1 else f"yaxis{n}"
    layout[xkey] = dict(domain=[px_x(x0), px_x(x1)], anchor=ya, range=[4, 28],
                        tickmode="array", tickvals=TICK_HOURS, ticktext=TICK_LABELS,
                        ticks="outside", ticklen=4, tickwidth=1, tickcolor="#8a8a8a",
                        showline=True, linecolor="#b5b5b5", linewidth=1,
                        showgrid=False, zeroline=False, fixedrange=True, automargin=False,
                        tickfont=dict(family=FONT, size=12.8, color="#222222"))
    layout[ykey] = dict(domain=[px_y(yb), px_y(yt)], anchor=xa, range=[0, 100], visible=False,
                        showgrid=False, zeroline=False, fixedrange=True, automargin=False)
    annotations.append(dict(text=MONTH_NAMES[mi], xref="paper", yref="paper",
                            x=px_x((x0 + x1) / 2), y=px_y(TITLE_Y[r]),
                            xanchor="center", yanchor="middle", showarrow=False, borderpad=0,
                            font=dict(family=FONT, size=TITLE_SIZE, color="#111111")))
    if MONTH_NAMES[mi] in SUN_MONTHS:
        k = SUN_MONTHS.index(MONTH_NAMES[mi])
        for tx in (SUN_RISE[k], SUN_SET[k]):
            shapes.append(dict(type="line", xref=xa, yref=f"{ya} domain",
                               x0=tx, x1=tx, y0=-0.03, y1=1.2,
                               line=dict(color="black", width=2)))

layout["annotations"] = annotations
layout["shapes"] = shapes
fig.update_layout(**layout)
fig.write_html("out.html")
